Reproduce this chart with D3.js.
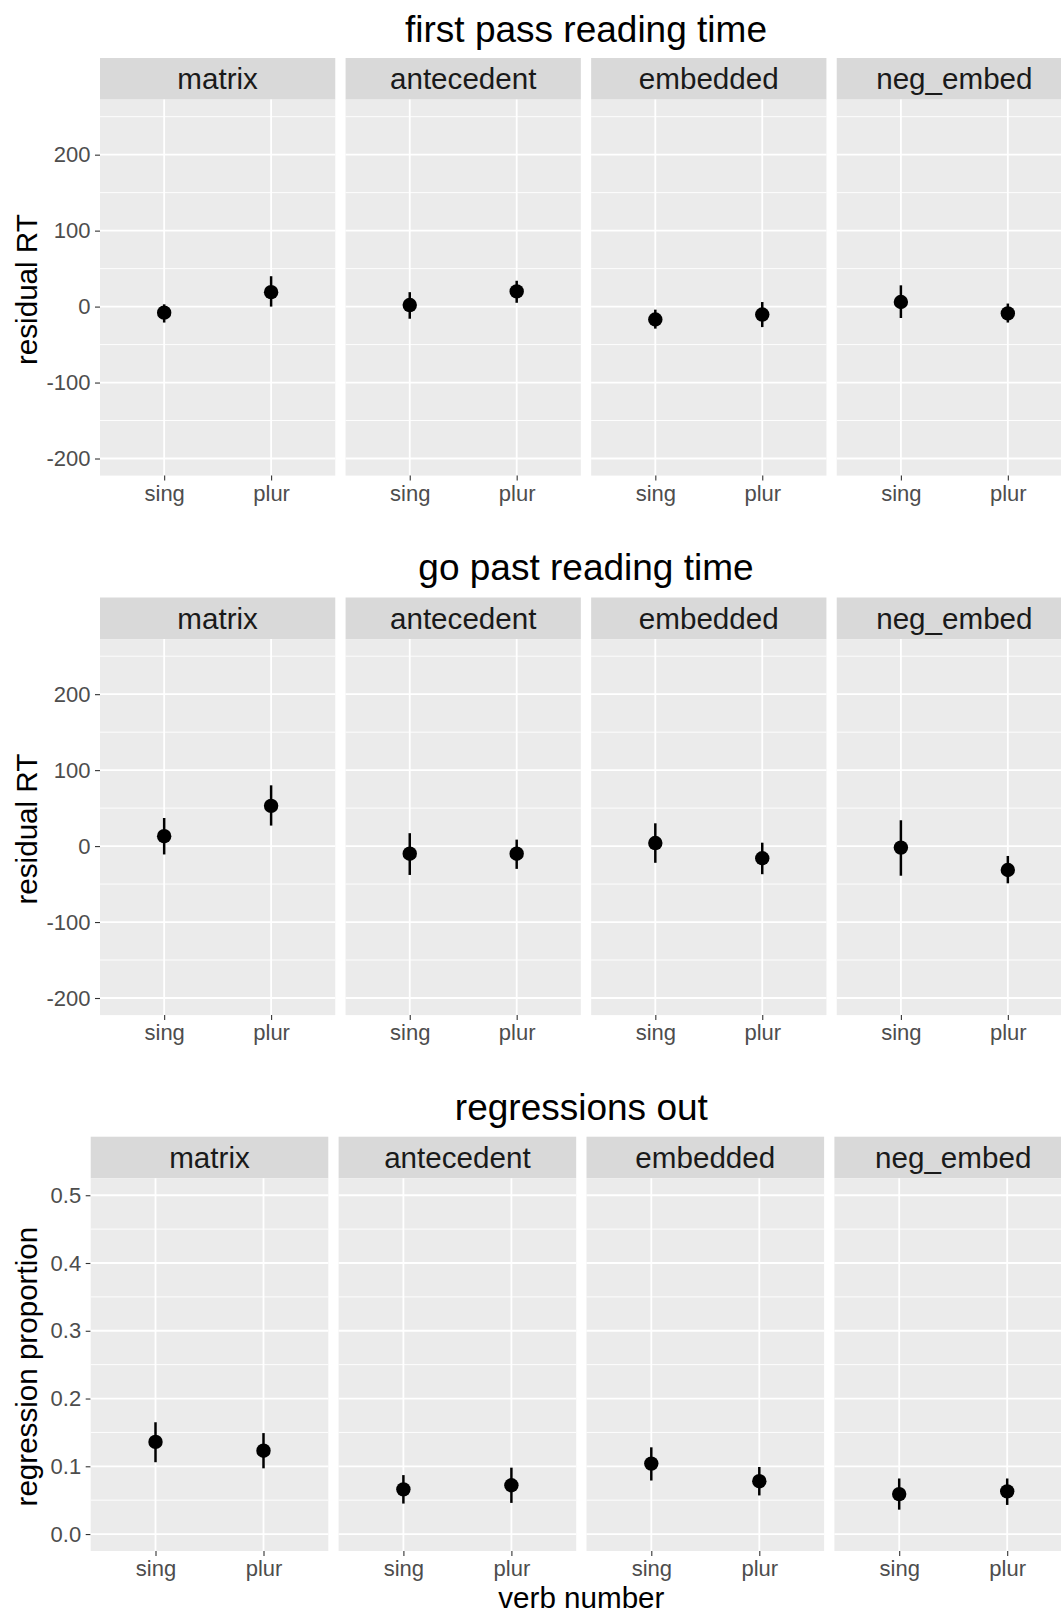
<!DOCTYPE html>
<html>
<head>
<meta charset="utf-8">
<script src="https://cdn.jsdelivr.net/npm/d3@7"></script>
<style>
  body { margin: 0; background: #fff; }
  text { font-family: "Liberation Sans", Arial, Helvetica, sans-serif; }
</style>
</head>
<body>
<div id="chart"></div>
<script>
// facets and x categories
const regions = ["matrix", "antecedent", "embedded", "neg_embed"];
const verbNumbers = ["sing", "plur"];

// first pass reading time, [sing, plur] for each region
const firstPassMean = [[-8, 19], [2, 20], [-17, -10.5], [6, -9]];
const firstPassLow  = [[-21, 0], [-16, 5], [-29, -27], [-15, -21]];
const firstPassHigh = [[3, 40], [19, 34], [-4, 6], [28, 4]];

// go past reading time
const goPastMean = [[13, 53], [-10, -10], [4, -16], [-2, -31.5]];
const goPastLow  = [[-11, 27], [-38, -30], [-22, -37], [-39, -49]];
const goPastHigh = [[37, 80], [17, 8.5], [30, 4.5], [34, -13]];

// regressions out (proportion)
const regrMean = [[0.136, 0.123], [0.066, 0.072], [0.104, 0.078], [0.059, 0.063]];
const regrLow  = [[0.106, 0.097], [0.045, 0.046], [0.079, 0.057], [0.036, 0.043]];
const regrHigh = [[0.165, 0.149], [0.087, 0.098], [0.128, 0.099], [0.082, 0.082]];

// tick labels
const rtTicks = [-200, -100, 0, 100, 200];
const rtMinorTicks = [-150, -50, 50, 150, 250];
const propTicks = [0, 0.1, 0.2, 0.3, 0.4, 0.5];
const propMinorTicks = [0.05, 0.15, 0.25, 0.35, 0.45];

const width = 1061, height = 1616;
const stripH = 41.6;
const panelRight = 1072;   // the last facet runs past the picture edge
const facetGap = 10.3;

const svg = d3.select("#chart")
  .append("svg")
    .attr("width", width)
    .attr("height", height)
    .style("display", "block")
    .style("background", "#fff");

const rows = [
  { title: "first pass reading time", yLabel: "residual RT",
    mean: firstPassMean, low: firstPassLow, high: firstPassHigh,
    domain: [-222.5, 272.5], ticks: rtTicks, minor: rtMinorTicks, fmt: d => String(d),
    top: 58, left: 100, panelH: 376, titleY: 42 },
  { title: "go past reading time", yLabel: "residual RT",
    mean: goPastMean, low: goPastLow, high: goPastHigh,
    domain: [-222.5, 272.5], ticks: rtTicks, minor: rtMinorTicks, fmt: d => String(d),
    top: 597.5, left: 100, panelH: 376, titleY: 580 },
  { title: "regressions out", yLabel: "regression proportion",
    mean: regrMean, low: regrLow, high: regrHigh,
    domain: [-0.025, 0.525], ticks: propTicks, minor: propMinorTicks, fmt: d => d.toFixed(1),
    top: 1136.7, left: 90.7, panelH: 372.7, titleY: 1120, xLabel: "verb number" }
];

const drawRow = (row) => {
  const g = svg.append("g");
  const step = (panelRight - row.left + facetGap) / regions.length;
  const facetScale = d3.scaleBand()
    .domain(regions)
    .range([row.left, panelRight])
    .paddingInner(facetGap / step);
  const pw = facetScale.bandwidth();
  const panelTop = row.top + stripH;
  const panelBottom = panelTop + row.panelH;

  const yScale = d3.scaleLinear().domain(row.domain).range([panelBottom, panelTop]);
  const xScale = d3.scalePoint().domain(verbNumbers).range([0, pw]).padding(0.6);

  // plot title
  g.append("text")
    .text(row.title)
    .attr("x", (row.left + panelRight) / 2)
    .attr("y", row.titleY)
    .attr("text-anchor", "middle")
    .attr("fill", "#000")
    .style("font-size", "37px");

  // y axis title
  g.append("text")
    .text(row.yLabel)
    .attr("transform", `translate(37, ${(panelTop + panelBottom) / 2 + 2}) rotate(-90)`)
    .attr("text-anchor", "middle")
    .attr("fill", "#000")
    .style("font-size", "29.6px");

  // y axis (left of first facet only)
  const yAxis = g.append("g")
    .attr("transform", `translate(${row.left}, 0)`)
    .call(d3.axisLeft(yScale).tickValues(row.ticks).tickFormat(row.fmt).tickSize(5).tickPadding(4.5));
  yAxis.select(".domain").remove();
  yAxis.selectAll("line").attr("stroke", "#333").attr("stroke-width", 1.1);
  yAxis.selectAll("text")
    .attr("fill", "#4d4d4d")
    .style("font-size", "22px")
    .style("font-family", "'Liberation Sans', Arial, sans-serif");

  regions.forEach((region, i) => {
    const fx = facetScale(region);
    const facet = g.append("g").attr("transform", `translate(${fx}, 0)`);

    // strip
    facet.append("rect")
      .attr("x", 0).attr("y", row.top)
      .attr("width", pw).attr("height", stripH)
      .attr("fill", "#d9d9d9");
    facet.append("text")
      .text(region)
      .attr("x", pw / 2)
      .attr("y", row.top + stripH / 2 + 10.6)
      .attr("text-anchor", "middle")
      .attr("fill", "#1a1a1a")
      .style("font-size", "29.6px");

    // panel background
    facet.append("rect")
      .attr("x", 0).attr("y", panelTop)
      .attr("width", pw).attr("height", row.panelH)
      .attr("fill", "#ebebeb");

    // grid
    facet.selectAll(".minor")
      .data(row.minor)
      .join("line")
        .attr("x1", 0).attr("x2", pw)
        .attr("y1", d => yScale(d)).attr("y2", d => yScale(d))
        .attr("stroke", "#fff").attr("stroke-width", 0.9);
    facet.selectAll(".major")
      .data(row.ticks)
      .join("line")
        .attr("x1", 0).attr("x2", pw)
        .attr("y1", d => yScale(d)).attr("y2", d => yScale(d))
        .attr("stroke", "#fff").attr("stroke-width", 1.8);
    facet.selectAll(".xgrid")
      .data(verbNumbers)
      .join("line")
        .attr("x1", d => xScale(d)).attr("x2", d => xScale(d))
        .attr("y1", panelTop).attr("y2", panelBottom)
        .attr("stroke", "#fff").attr("stroke-width", 1.8);

    // x axis
    const xAxis = facet.append("g")
      .attr("transform", `translate(0, ${panelBottom})`)
      .call(d3.axisBottom(xScale).tickSize(5).tickPadding(4.5));
    xAxis.select(".domain").remove();
    xAxis.selectAll("line").attr("stroke", "#333").attr("stroke-width", 1.1);
    xAxis.selectAll("text")
      .attr("fill", "#4d4d4d")
      .style("font-size", "22px")
      .style("font-family", "'Liberation Sans', Arial, sans-serif");

    // point ranges
    const pts = verbNumbers.map((v, j) => ({
      v, mean: row.mean[i][j], low: row.low[i][j], high: row.high[i][j]
    }));
    facet.selectAll(".err")
      .data(pts)
      .join("line")
        .attr("x1", d => xScale(d.v)).attr("x2", d => xScale(d.v))
        .attr("y1", d => yScale(d.low)).attr("y2", d => yScale(d.high))
        .attr("stroke", "#000").attr("stroke-width", 2.5);
    facet.selectAll(".pt")
      .data(pts)
      .join("circle")
        .attr("cx", d => xScale(d.v))
        .attr("cy", d => yScale(d.mean))
        .attr("r", 7.2)
        .attr("fill", "#000");
  });

  if (row.xLabel) {
    g.append("text")
      .text(row.xLabel)
      .attr("x", (row.left + panelRight) / 2)
      .attr("y", 1608)
      .attr("text-anchor", "middle")
      .attr("fill", "#000")
      .style("font-size", "29.6px");
  }
};

rows.forEach(drawRow);
</script>
</body>
</html>
